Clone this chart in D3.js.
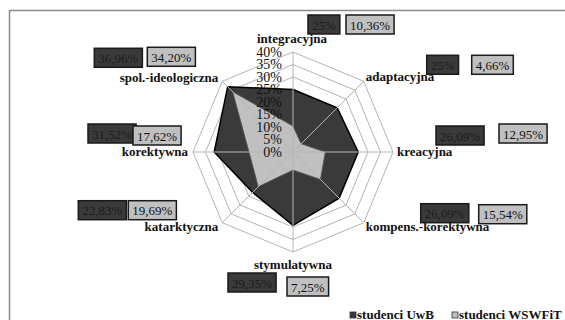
<!DOCTYPE html>
<html>
<head>
<meta charset="utf-8">
<script src="https://cdn.jsdelivr.net/npm/d3@7"></script>
<style>
  html, body { margin: 0; padding: 0; background: #fff; }
  svg { display: block; }
  text { font-family: "Liberation Serif", "Times New Roman", serif; }
</style>
</head>
<body>
<svg id="chart" width="565" height="320"></svg>
<script>
// Functions of physical education (%), per student group
const categories = [
  "integracyjna", "adaptacyjna", "kreacyjna", "kompens.-korektywna",
  "stymulatywna", "katarktyczna", "korektywna", "spol.-ideologiczna"
];
const seriesNames = ["studenci UwB", "studenci WSWFiT"];
const uwb    = [25, 25, 26.09, 26.09, 29.35, 22.83, 31.52, 36.96];
const wswfit = [10.36, 4.66, 12.95, 15.54, 7.25, 19.69, 17.62, 34.20];
const tickValues = [0, 5, 10, 15, 20, 25, 30, 35, 40];

// Placement of category names and value boxes, relative to each outer vertex
const nameOffsets = [[-1, -9, "middle"], [2, 0, "start"], [4, 4, "start"], [2, 8, "start"],
                     [0, 17, "middle"], [-4, 8, "end"], [-5, 4, "end"], [-4, 1, "end"]];
const darkBoxOffsets  = [[15, -37], [63, -26], [43, -26], [57, -19], [-65, 21], [-144, -22], [-105, -28], [-128, -33]];
const lightBoxOffsets = [[53, -37], [108, -26], [106, -28], [115, -18], [-6, 25], [-94, -22], [-60, -26], [-75, -34]];

const colors = { dark: "#3a3a3a", light: "#c0c0c0", grid: "#b4b4b4" };

const svg = d3.select("#chart");
const cx = 293, cy = 152;
const n = categories.length;
const r = d3.scaleLinear().domain([0, 40]).range([0, 100]);
const angle = i => i * 2 * Math.PI / n;
const pt = (i, v) => [cx + r(v) * Math.sin(angle(i)), cy - r(v) * Math.cos(angle(i))];

const locale = d3.formatLocale({ decimal: ",", thousands: " ", grouping: [3], currency: ["", ""] });
const fmt = v => (Number.isInteger(v) ? locale.format("d")(v) : locale.format(".2f")(v)) + "%";

// Outer frame
svg.append("rect")
  .attr("x", 9.5).attr("y", 10.5).attr("width", 620).attr("height", 400)
  .attr("fill", "none").attr("stroke", "#8c8c8c").attr("stroke-width", 1.5);

const g = svg.append("g").attr("transform", `translate(${cx},${cy})`);

const radial = d3.lineRadial()
  .angle((d, i) => angle(i))
  .radius(d => r(d))
  .curve(d3.curveLinearClosed);

// Grid rings
g.selectAll("path.ring")
  .data(tickValues.slice(1))
  .join("path")
  .attr("class", "ring")
  .attr("d", t => radial(d3.range(n).map(() => t)))
  .attr("fill", "none")
  .attr("stroke", colors.grid)
  .attr("stroke-width", 1);

// Series polygons
g.append("path")
  .attr("d", radial(uwb))
  .attr("fill", colors.dark)
  .attr("stroke", "#000")
  .attr("stroke-width", 1.5);

g.append("path")
  .attr("d", radial(wswfit))
  .attr("fill", colors.light)
  .attr("stroke", "#555")
  .attr("stroke-width", 1);

// Spokes
g.selectAll("line.spoke")
  .data(d3.range(n))
  .join("line")
  .attr("class", "spoke")
  .attr("x1", 0).attr("y1", 0)
  .attr("x2", i => r(40) * Math.sin(angle(i)))
  .attr("y2", i => -r(40) * Math.cos(angle(i)))
  .attr("stroke", colors.grid)
  .attr("stroke-width", 1);

// Radial tick labels
g.selectAll("text.tick")
  .data(tickValues)
  .join("text")
  .attr("class", "tick")
  .attr("x", -11)
  .attr("y", t => -r(t))
  .attr("dy", "0.35em")
  .attr("text-anchor", "end")
  .attr("font-size", 14)
  .attr("fill", "#111")
  .text(t => t + "%");

// Category names
svg.selectAll("text.cat")
  .data(categories)
  .join("text")
  .attr("class", "cat")
  .attr("x", (d, i) => pt(i, 40)[0] + nameOffsets[i][0])
  .attr("y", (d, i) => pt(i, 40)[1] + nameOffsets[i][1])
  .attr("text-anchor", (d, i) => nameOffsets[i][2])
  .attr("font-size", 13)
  .attr("font-weight", "bold")
  .attr("fill", "#111")
  .text(d => d);

// Value boxes
function valueBoxes(values, offsets, fill, textFill) {
  const boxes = svg.append("g").selectAll("g")
    .data(values)
    .join("g")
    .attr("transform", (v, i) => {
      const p = pt(i, 40);
      return `translate(${p[0] + offsets[i][0]},${p[1] + offsets[i][1]})`;
    });
  const rects = boxes.append("rect")
    .attr("height", 19)
    .attr("fill", fill)
    .attr("stroke", "#1a1a1a")
    .attr("stroke-width", 1.5);
  const labels = boxes.append("text")
    .attr("y", 14.5)
    .attr("font-size", 13)
    .attr("fill", textFill)
    .text(v => fmt(v));
  labels.each(function () {
    const w = this.getComputedTextLength();
    d3.select(this).attr("x", 4);
    d3.select(this.parentNode).select("rect").attr("width", w + 8);
  });
}
valueBoxes(uwb, darkBoxOffsets, colors.dark, "#1c1c1c");
valueBoxes(wswfit, lightBoxOffsets, colors.light, "#111");

// Legend
const legendX = [350, 452];
const legend = svg.selectAll("g.legend")
  .data(seriesNames)
  .join("g")
  .attr("class", "legend")
  .attr("transform", (d, i) => `translate(${legendX[i]},312)`);
legend.append("rect")
  .attr("width", 6).attr("height", 6)
  .attr("fill", (d, i) => i === 0 ? colors.dark : colors.light)
  .attr("stroke", "#333").attr("stroke-width", 0.8);
legend.append("text")
  .attr("x", 7).attr("y", 6.5)
  .attr("font-size", 13)
  .attr("font-weight", "bold")
  .attr("fill", "#111")
  .text(d => d);
</script>
</body>
</html>
